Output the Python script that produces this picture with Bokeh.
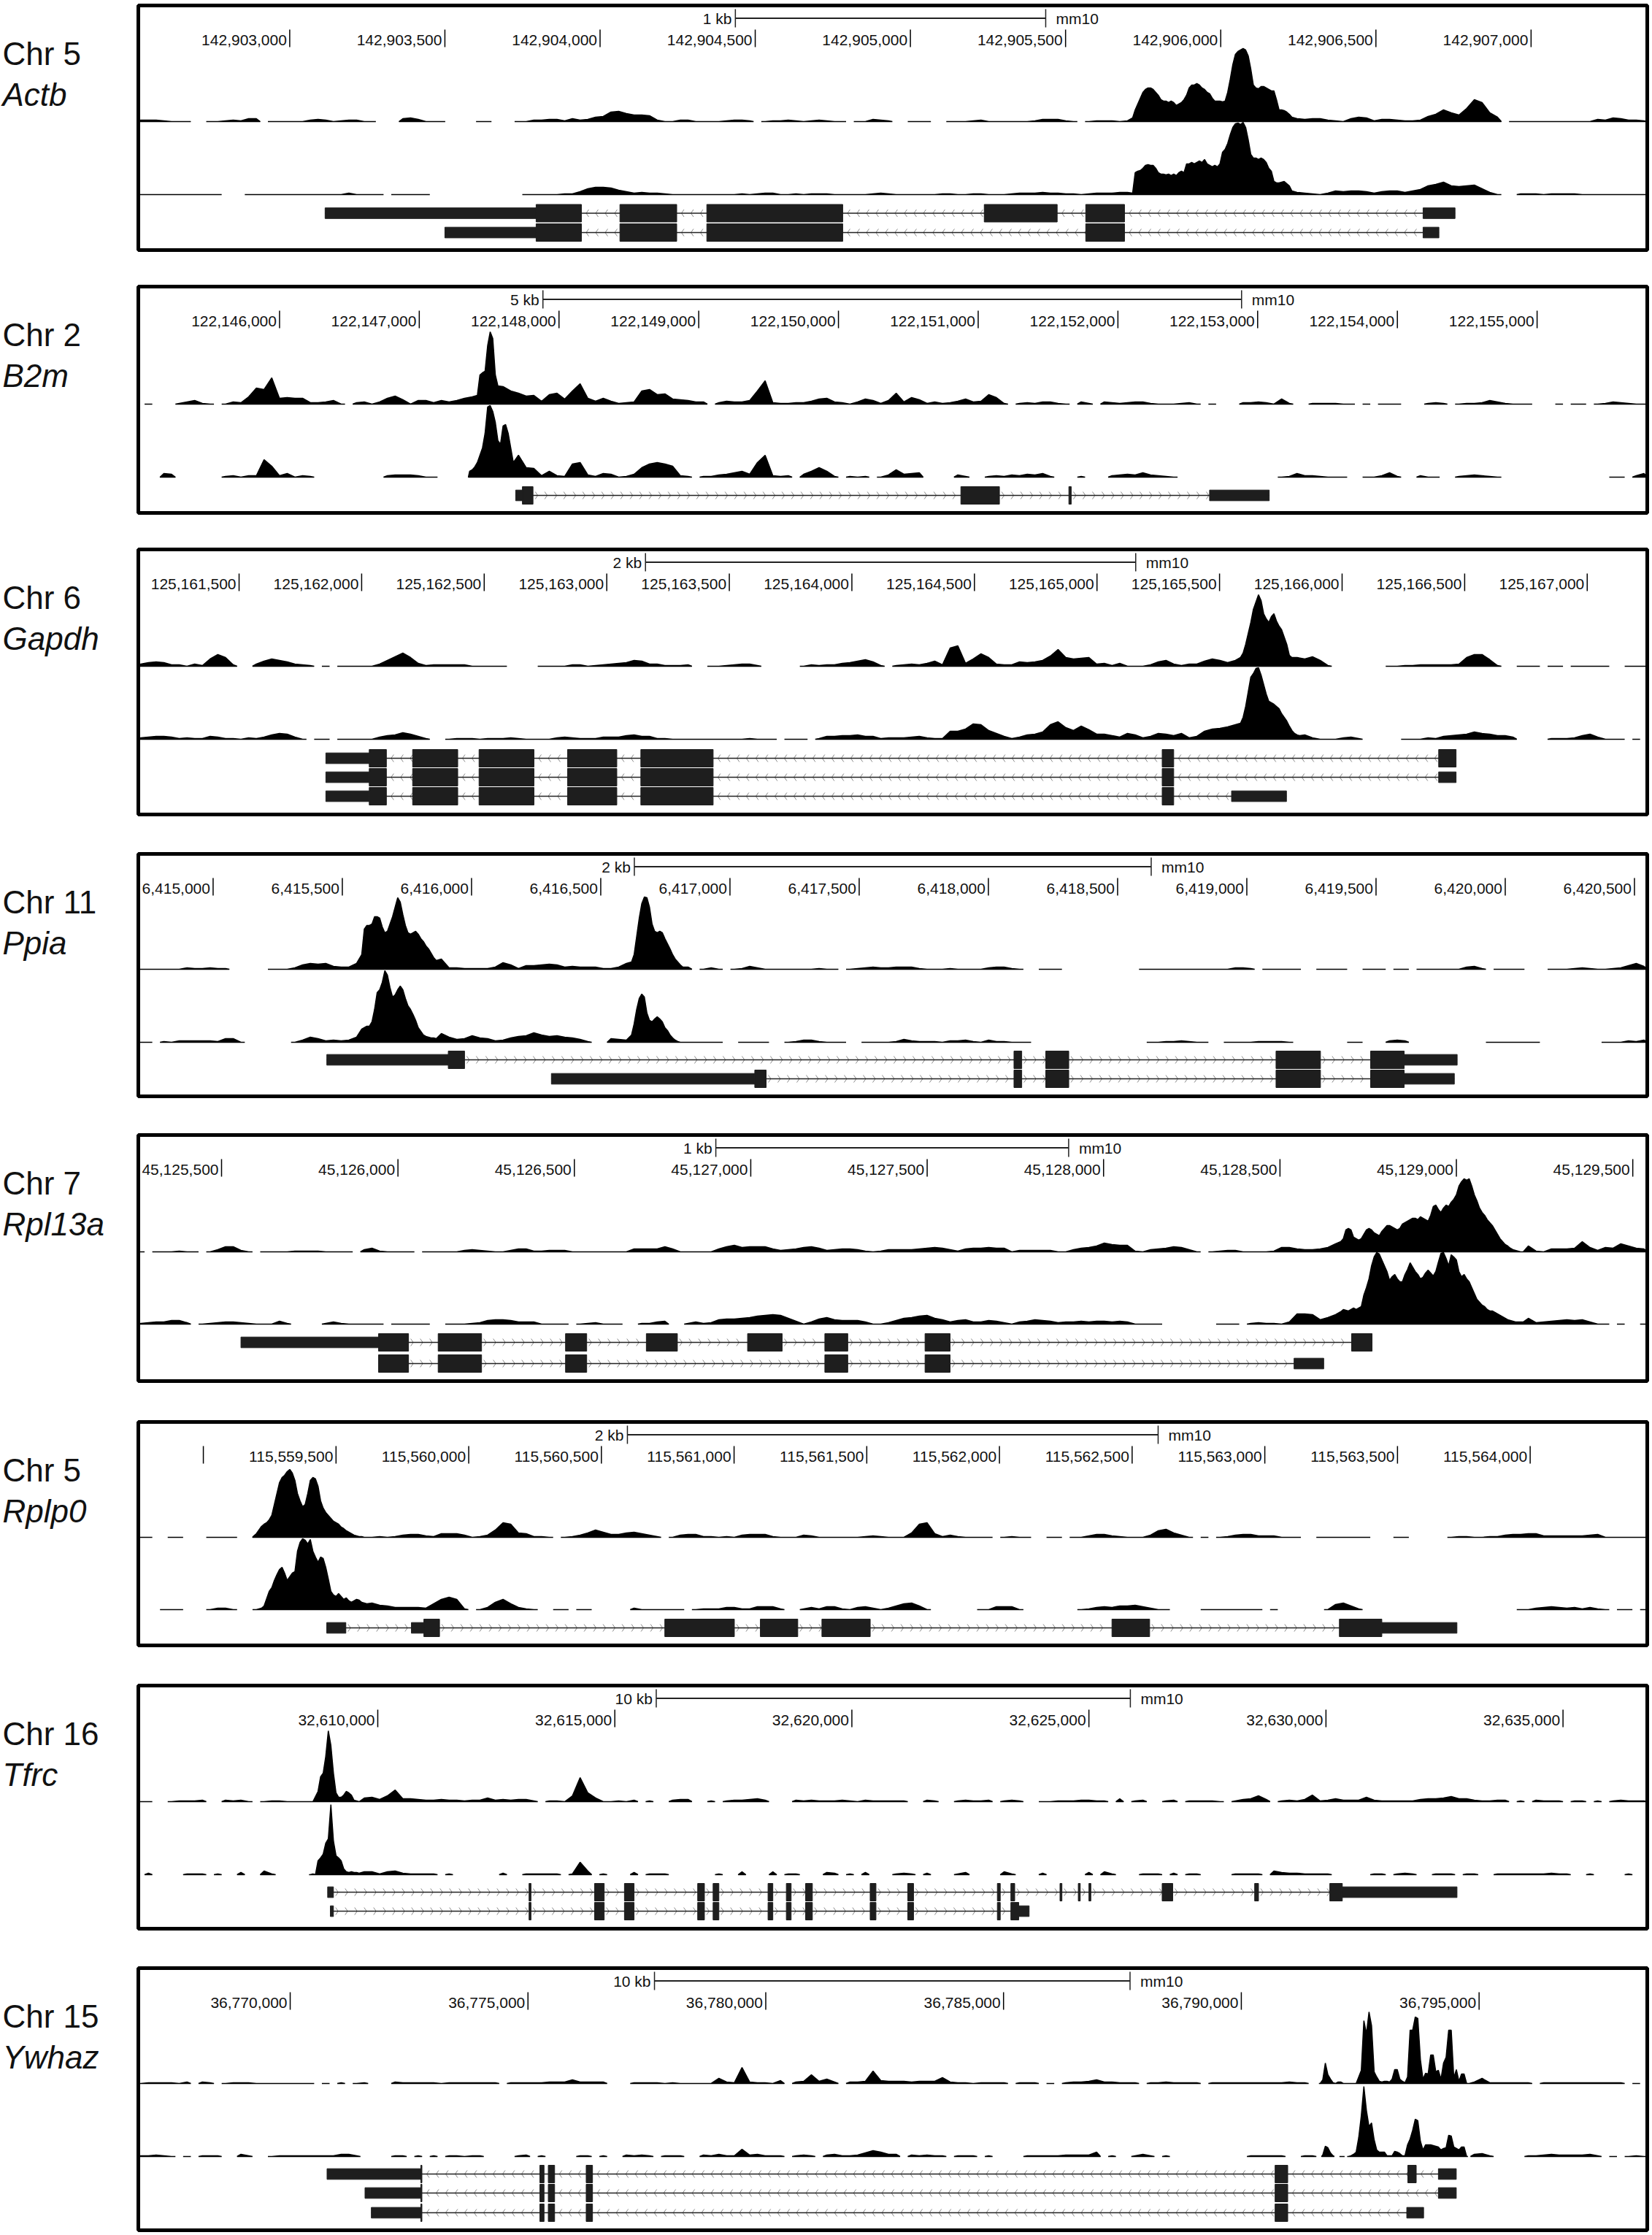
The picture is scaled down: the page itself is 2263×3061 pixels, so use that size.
import numpy as np
from bokeh.embed import file_html
from bokeh.layouts import column, row
from bokeh.models import ColumnDataSource, Range1d
from bokeh.plotting import figure
from bokeh.resources import INLINE
from bokeh.core.properties import value

N = None  # no coverage in this bin, the track has a gap there

# coverage per bin, 20 bins on each line
ACTB_A = [
    2,2,2,1,0,0,0,N,N,0,0,1,2,1,4,4,N,0,0,0,
    0,0,2,3,2,0,1,2,2,0,0,N,N,N,4,5,3,0,0,0,
    N,N,N,N,0,0,N,N,N,0,0,2,2,3,3,1,4,2,3,6,
    7,13,14,11,9,9,8,2,0,0,2,2,0,0,0,0,1,2,2,1,
    N,0,1,1,2,1,0,1,2,1,0,0,N,0,0,3,2,1,N,N,
    0,0,0,N,N,0,0,0,1,2,0,0,0,0,0,0,1,3,3,3,
    1,0,N,0,1,1,1,0,1,10,33,46,43,30,26,25,43,49,46,38,
    25,62,92,100,70,46,46,40,16,12,4,3,4,4,2,1,0,4,6,5,
    1,3,3,2,1,1,2,7,10,16,12,9,18,30,26,12,6,N,0,0,
    0,0,0,0,0,0,0,0,0,3,2,5,4,2,2,1,
]
ACTB_B = [
    0,0,0,0,0,0,0,0,0,0,0,N,N,N,0,0,0,0,0,0,
    0,0,0,0,0,0,0,2,0,0,0,0,N,0,0,0,0,0,N,N,
    N,N,N,N,N,N,N,N,N,N,0,0,0,0,0,1,1,4,8,10,
    10,9,6,4,2,3,2,2,1,0,0,0,0,0,0,0,0,0,1,0,
    1,2,2,0,0,1,0,1,1,1,0,0,0,0,0,1,2,1,0,0,
    0,0,0,0,1,1,0,0,1,1,0,0,0,1,2,2,2,3,2,2,
    1,1,0,1,2,2,2,3,3,30,35,38,30,25,28,22,42,42,48,38,
    38,58,95,97,62,48,45,38,17,14,3,2,1,0,2,5,4,5,5,4,
    2,4,5,5,3,5,7,12,14,17,12,11,12,13,8,3,0,N,N,1,
    1,1,0,1,1,1,1,0,0,0,0,0,0,0,0,0,
]
B2M_A = [
    N,0,N,N,N,1,3,5,1,0,N,0,3,2,10,22,20,36,8,9,
    8,8,2,2,3,5,0,N,2,3,0,3,8,11,6,0,5,5,2,5,
    3,5,8,10,13,45,99,24,18,15,11,12,4,13,15,7,18,28,8,4,
    8,4,1,2,3,18,20,13,14,7,6,5,3,3,N,2,4,3,3,5,
    18,32,2,1,1,2,2,4,7,8,3,2,0,3,7,5,1,5,15,3,
    9,6,1,3,1,2,4,7,3,4,13,9,1,N,1,2,1,3,3,1,
    0,N,3,1,N,3,2,1,2,3,3,1,0,0,0,1,2,0,N,0,
    N,N,N,2,2,3,2,0,7,1,N,N,1,1,1,1,0,0,N,0,
    N,0,0,0,N,N,N,1,2,1,N,0,1,1,2,5,3,1,0,0,
    0,N,N,N,0,N,0,0,N,0,1,3,2,1,0,0,
]
B2M_B = [
    N,N,N,5,4,N,N,N,N,N,N,1,2,0,2,2,24,15,2,5,
    0,2,1,N,N,N,N,N,N,N,N,N,2,3,3,3,2,0,0,N,
    N,N,N,10,20,70,95,50,70,30,13,12,2,8,2,1,18,20,3,1,
    5,4,0,1,4,13,18,20,18,15,2,1,N,1,1,3,4,6,8,4,
    20,30,2,1,2,N,4,8,13,8,1,N,1,0,1,N,0,3,10,4,
    5,6,N,N,N,N,3,1,N,N,1,2,1,3,2,4,3,5,1,N,
    N,N,1,N,N,N,2,3,4,3,6,3,2,1,0,N,N,N,N,N,
    N,N,N,N,N,N,N,N,0,1,5,2,2,1,0,0,0,N,N,0,
    0,2,6,1,N,N,2,0,0,N,N,1,2,3,2,1,0,N,N,N,
    N,N,N,N,N,N,N,N,N,N,N,0,0,N,2,5,
]
GAPDH_A = [
    3,5,6,5,2,2,0,3,1,10,16,12,2,N,N,3,7,10,8,6,
    3,2,1,N,0,N,0,0,0,0,0,3,8,13,18,12,4,1,2,2,
    2,2,2,0,0,0,0,0,N,N,N,N,0,0,0,0,2,2,0,1,
    2,3,4,5,8,7,3,3,1,1,1,2,N,N,0,0,1,2,3,3,
    1,N,N,N,N,N,0,2,1,2,2,4,5,7,9,6,1,N,1,2,
    3,2,4,7,2,25,28,4,10,17,12,3,2,2,6,5,6,8,14,23,
    12,10,11,12,3,4,1,4,0,0,0,2,6,8,3,1,3,3,7,10,
    8,5,8,15,50,85,98,70,72,45,12,10,13,8,1,N,N,N,N,N,
    N,N,0,0,1,1,2,2,2,2,2,3,12,16,16,9,1,N,N,0,
    0,0,N,0,0,N,0,0,0,0,0,N,N,0,0,0,
]
GAPDH_B = [
    2,3,4,4,3,1,2,1,1,4,3,1,1,0,2,1,3,6,8,7,
    3,0,N,0,0,N,0,0,0,0,0,3,5,6,9,7,4,1,N,N,
    0,1,1,1,0,1,1,1,2,1,0,0,0,0,2,3,2,1,1,1,
    3,3,3,5,6,4,4,1,1,0,0,0,0,0,0,0,0,0,0,1,
    0,0,0,N,0,0,0,N,1,4,4,5,5,6,4,4,1,2,2,2,
    3,4,2,1,1,11,11,14,21,20,12,8,4,1,3,6,7,10,20,24,
    16,12,18,13,7,7,5,3,8,6,2,4,8,7,5,8,2,4,11,14,
    15,17,20,40,88,97,70,48,40,28,13,6,2,0,0,0,2,3,1,N,
    N,N,N,N,0,0,0,2,1,4,5,6,7,10,8,7,5,5,3,N,
    N,N,N,1,1,1,2,5,7,3,0,0,0,N,0,N,
]
PPIA_A = [
    0,0,0,0,0,0,2,1,1,2,1,1,N,N,N,N,N,0,0,0,
    2,6,8,7,8,4,3,3,8,8,60,72,50,80,96,55,48,50,30,14,
    2,2,1,1,1,1,3,9,6,1,5,5,6,7,6,3,4,3,3,3,
    1,1,3,8,9,50,98,70,52,35,12,3,N,0,2,0,N,0,1,4,
    2,0,0,0,0,0,0,0,1,0,0,N,0,1,2,3,2,2,3,3,
    3,1,0,0,0,1,0,0,0,0,2,3,3,1,0,N,N,0,0,0,
    N,N,N,N,N,N,N,N,N,N,0,0,0,0,0,0,0,0,0,0,
    0,0,2,2,1,N,0,0,0,0,0,N,N,0,0,0,0,N,N,0,
    0,0,N,0,0,N,0,0,0,0,0,0,3,4,1,N,0,0,0,0,
    N,N,N,0,0,0,1,2,1,0,0,1,2,5,8,4,
]
PPIA_B = [
    0,0,N,1,0,2,2,2,2,2,1,5,5,0,N,N,N,N,N,N,
    0,3,7,5,2,3,2,3,7,10,20,21,38,70,96,50,65,75,40,12,
    7,4,5,9,6,5,2,3,6,8,9,13,10,8,9,7,6,4,1,N,
    N,5,4,3,8,30,65,28,34,20,5,0,0,0,0,0,N,N,0,0,
    0,0,N,N,0,1,3,3,1,0,0,0,N,N,0,0,0,0,1,4,
    2,1,1,1,0,2,2,3,1,0,3,1,1,0,0,0,N,N,N,N,
    N,N,N,N,N,N,N,N,N,N,N,0,0,1,1,2,1,0,0,N,
    N,0,0,0,0,1,1,1,1,0,N,N,N,N,N,N,N,0,0,N,
    N,N,2,3,2,N,N,N,N,N,N,N,N,N,N,0,0,0,0,0,
    0,0,N,N,N,N,N,N,N,N,0,0,0,2,1,3,
]
RPL13A_A = [
    0,N,0,0,0,1,0,0,N,0,3,7,7,2,0,N,0,0,0,0,
    1,1,1,1,0,0,0,0,N,3,5,1,0,0,0,0,N,0,0,0,
    0,0,2,3,2,1,0,0,2,4,4,1,1,2,2,2,0,0,0,0,
    0,0,0,0,4,4,4,4,7,4,0,0,0,0,0,4,7,9,6,7,
    7,7,4,2,3,4,6,7,5,2,3,4,4,3,1,0,1,3,3,3,
    3,4,5,6,5,3,1,4,5,5,6,5,5,0,2,2,2,2,2,0,
    0,3,5,6,8,12,10,9,9,1,0,3,4,5,7,6,3,0,N,0,
    1,2,2,0,0,0,0,1,6,6,4,3,3,4,6,11,20,30,28,20,
    28,35,33,28,32,38,40,44,48,45,62,55,62,70,95,100,80,50,35,24,
    8,1,0,4,4,4,5,14,6,2,6,5,11,8,5,4,
]
RPL13A_B = [
    1,2,3,3,5,5,2,N,0,1,2,3,3,2,1,0,0,0,4,1,
    N,N,N,N,1,3,1,0,0,0,0,0,N,0,0,0,0,0,N,N,
    0,0,0,1,2,5,6,6,5,3,3,3,0,0,0,0,N,0,1,2,
    0,0,0,N,N,1,1,3,4,N,N,1,3,1,2,6,7,7,8,9,
    11,12,13,12,8,4,0,3,7,9,6,5,5,5,3,0,0,2,5,8,
    9,11,12,8,6,3,5,6,3,3,5,4,2,0,3,4,6,5,4,2,
    3,3,4,3,4,4,3,4,3,0,0,0,0,N,N,N,N,N,N,N,
    0,0,0,N,1,2,1,1,0,3,14,14,13,6,9,13,17,20,20,30,
    70,98,90,60,68,58,75,84,62,70,70,97,82,95,72,62,40,25,18,13,
    8,2,3,4,5,6,5,6,3,0,0,N,0,N,N,0,
]
RPLP0_A = [
    0,0,N,N,0,0,N,N,N,0,0,0,0,N,N,3,15,20,55,85,
    88,45,75,82,35,22,20,8,3,1,0,1,0,1,3,4,4,2,1,5,
    5,5,3,0,1,3,10,20,18,6,5,1,1,0,N,0,1,3,6,10,
    7,4,4,6,7,5,3,1,N,0,3,4,4,1,1,0,1,0,3,4,
    4,4,1,0,0,0,3,2,0,0,0,0,0,0,1,2,1,0,0,0,
    6,18,20,5,1,3,1,0,0,0,0,N,0,1,0,0,N,N,0,0,
    N,0,0,2,4,4,2,1,0,0,0,3,9,11,6,3,0,N,0,N,
    0,1,3,4,4,2,2,2,0,0,0,N,N,0,0,0,0,0,0,0,
    N,N,N,0,0,N,N,N,N,N,0,1,1,0,0,1,1,3,4,4,
    5,5,2,2,2,2,2,2,3,4,0,0,0,0,0,0,
]
RPLP0_B = [
    N,N,N,0,0,0,N,N,N,0,2,2,0,N,N,0,1,5,32,48,
    58,40,95,97,75,58,52,20,15,17,9,6,5,3,3,3,3,2,8,14,
    17,14,1,N,0,3,10,14,8,3,1,0,N,N,0,0,N,0,0,N,
    N,N,N,N,2,0,0,0,0,0,0,N,0,1,1,1,3,3,1,1,
    4,4,4,1,N,N,1,3,1,4,4,1,0,3,4,2,0,2,5,8,
    9,5,0,N,N,N,N,N,N,0,0,4,4,4,0,N,N,N,N,N,
    N,N,0,1,3,4,3,5,5,6,4,2,0,0,N,N,N,N,0,0,
    0,0,0,0,0,0,N,0,N,N,N,N,N,N,0,7,9,5,1,N,
    N,N,N,N,N,N,N,N,N,N,N,N,N,N,N,N,N,N,N,0,
    0,2,3,4,3,2,3,1,3,1,0,N,0,0,N,0,
]
TFRC_A = [
    0,0,N,N,0,1,1,1,2,N,N,2,1,2,0,N,0,1,1,0,
    0,0,1,8,50,98,30,15,3,5,6,3,8,16,4,4,3,2,2,3,
    2,2,1,2,2,5,2,3,2,3,3,1,N,1,1,0,8,33,12,5,
    0,0,1,0,2,N,1,N,N,2,3,3,N,N,1,N,1,2,2,3,
    4,2,N,N,N,2,1,2,1,1,1,2,1,0,2,1,1,1,1,1,
    N,N,2,1,N,N,1,2,1,1,2,N,1,2,1,N,N,0,0,1,
    1,1,2,2,1,1,N,4,N,1,2,N,N,1,2,N,1,1,1,1,
    0,N,1,3,4,8,3,N,1,2,1,3,9,1,2,4,2,2,2,6,
    2,1,1,1,1,1,3,4,4,5,7,4,4,2,1,1,2,2,N,1,
    N,2,1,1,1,N,1,1,N,1,N,1,2,1,1,1,
]
TFRC_B = [
    N,2,N,N,N,N,1,1,1,N,1,N,N,3,N,N,5,1,N,N,
    N,N,2,6,55,97,38,14,5,4,4,1,4,5,2,1,1,1,1,N,
    1,N,N,N,N,N,N,2,N,N,1,1,1,1,1,N,1,17,5,N,
    1,N,N,N,3,N,1,1,1,N,N,N,N,N,N,1,N,N,4,N,
    N,N,4,N,1,1,N,N,N,3,2,N,1,N,3,N,N,N,1,2,
    1,N,2,N,N,N,1,3,N,N,N,N,4,1,N,N,N,2,N,N,
    N,N,N,3,N,4,1,N,N,N,1,1,1,N,2,N,1,1,N,N,
    N,N,1,1,1,1,N,5,3,2,2,1,1,1,1,N,N,N,N,N,
    1,1,N,1,2,1,N,N,1,1,1,N,1,1,N,N,1,1,1,1,
    1,1,1,2,1,1,N,N,1,N,N,N,N,1,N,N,
]
YWHAZ_A = [
    0,1,1,1,1,0,2,N,2,1,N,0,1,1,1,0,0,0,0,0,
    0,0,0,N,0,N,1,N,0,1,N,N,N,2,1,1,1,1,1,0,
    1,1,1,1,1,1,1,N,1,1,1,1,1,2,2,2,5,2,2,2,
    2,N,N,N,1,1,1,1,0,1,0,0,0,0,0,7,2,1,22,2,
    1,1,0,4,N,2,3,12,3,6,2,N,2,2,3,17,4,3,3,3,
    2,3,3,3,8,2,1,1,0,1,1,1,1,N,1,1,1,N,0,N,
    1,2,2,3,5,2,2,1,1,1,N,1,1,2,1,1,1,1,N,1,
    1,1,1,1,1,1,1,1,1,2,1,1,N,1,20,3,1,0,10,90,
    98,5,3,20,3,70,92,10,40,22,74,20,10,2,7,1,1,1,1,1,
    1,N,1,1,1,1,1,1,1,1,1,1,1,N,0,N,
]
YWHAZ_B = [
    1,1,2,1,0,N,0,N,1,1,1,N,N,3,1,N,N,0,1,1,
    1,1,1,1,1,1,3,3,1,N,N,N,N,1,1,N,1,N,1,N,
    1,1,0,1,1,N,N,N,N,1,2,N,1,N,N,N,N,1,1,N,
    1,N,N,2,1,2,1,N,1,1,1,N,N,2,1,3,1,1,10,2,
    3,1,1,1,N,1,2,1,N,2,3,1,1,2,5,8,6,3,3,N,
    2,1,2,1,1,N,1,1,1,N,1,N,N,N,N,1,1,1,1,1,
    2,2,2,2,6,N,1,N,N,1,3,1,N,1,N,N,N,N,N,N,
    N,N,N,N,1,1,1,1,1,N,N,1,1,2,12,1,N,1,10,97,
    40,8,3,7,3,50,50,14,16,12,28,14,10,3,4,1,N,N,N,N,
    1,1,2,3,2,2,2,2,3,1,N,0,N,0,1,0,
]

# the tall peaks read at three samples per bin: (first bin, samples)
ACTB_A_PEAKS = [(129, [
    5,16,24,32,40,44,46,46,44,40,36,30,28,28,26,28,26,22,24,26,30,36,46,50,50,52,50,46,44,40,38,32,
    28,28,28,27,28,40,58,78,92,96,98,100,98,90,72,50,46,45,48,48,46,44,42,42,30,16,16,15,13,10,6])]
ACTB_B_PEAKS = [(129, [
    2,30,32,33,36,40,41,40,40,36,30,28,28,27,28,26,28,26,30,32,30,42,42,44,42,44,46,44,48,42,40,38,
    40,38,42,58,62,70,82,92,97,98,96,99,92,75,55,50,50,48,50,48,44,36,32,18,16,16,17,18,15,12,5])]
B2M_A_PEAKS = [(44, [12,40,43,45,80,99,90,40,25])]
B2M_B_PEAKS = [(43, [8,10,14,20,30,40,60,96,98,90,75,50,45,70,72,60,40,20])]
GAPDH_A_PEAKS = [(143, [12,18,30,45,60,78,88,98,90,72,65,60,68,72,62,55,50,40,30,15,12])]
GAPDH_B_PEAKS = [(143, [22,30,45,65,85,90,97,98,88,75,62,52,50,48,45,42,35,30,25,18,12,8,6,5])]
PPIA_A_PEAKS = [
    (29, [20,55,60,60,62,72,72,70,58,50,52,62,72,85,98,92,75,60,50,48,50,52,48,42,38,32,28,22,16,12]),
    (64, [10,20,45,70,90,99,98,85,62,52,50,52,50,42,35,28,20,14,10,6,3]),
]
PPIA_B_PEAKS = [
    (29, [18,20,22,22,28,45,68,72,82,98,92,75,62,65,72,77,72,60,50,45,38,30,20,15,10,8,7,6,6,5]),
    (64, [10,25,45,60,66,62,40,30,28,32,35,32,28,20,16,10,6,3,1,0,0]),
]
RPL13A_A_PEAKS = [(156, [
    14,18,30,32,30,20,18,16,18,24,30,32,30,26,24,22,28,32,36,36,34,32,30,32,38,40,42,44,46,46,44,48,46,44,42,50,
    62,64,58,54,60,64,62,68,72,78,90,96,100,98,100,90,78,70,60,54,50,44,40,36,30,24,18,14,10,8,5,3,2,1,0,0])]
RPL13A_B_PEAKS = [(156, [
    17,20,19,18,20,22,20,22,24,40,50,62,80,92,98,96,88,80,72,60,65,68,62,58,58,68,75,84,78,72,68,62,64,70,74,70,
    66,72,85,97,98,90,80,95,92,88,72,65,68,62,58,50,42,34,30,26,24,20,18,18,16,14,12,10,8,6,5,4,3,3,3,3])]
RPLP0_A_PEAKS = [(15, [
    2,5,10,15,18,20,24,30,45,60,75,82,85,90,93,88,78,60,50,42,45,60,78,82,80,70,50,40,34,30,
    26,22,20,18,14,12,9,7,5,3,2,1,1,0,0])]
RPLP0_B_PEAKS = [(15, [
    0,0,1,2,5,15,25,30,40,48,55,58,50,40,45,50,52,80,92,97,95,90,96,80,72,65,72,70,58,42,
    25,20,18,22,18,14,16,12,10,12,14,13,10,9,8])]
TFRC_A_PEAKS = [(22, [0,0,0,7,14,34,39,62,97,77,39,12,6,6,9,14,12,9,2,1,0])]
TFRC_B_PEAKS = [(22, [N,0,1,0,19,23,28,43,49,96,46,26,23,19,8,4,3,4,3,3,2])]
YWHAZ_A_PEAKS = [(153, [
    N,0,5,28,12,6,1,0,2,2,0,0,0,0,0,
    0,9,18,86,68,98,79,16,9,3,2,3,3,2,6,19,19,6,3,1,
    9,73,73,91,89,33,6,14,13,39,39,16,18,6,28,36,73,73,8,19,3,13,13,0,0])]
YWHAZ_B_PEAKS = [(153, [
    N,N,2,14,12,5,1,N,N,0,0,N,0,1,3,
    6,26,56,96,63,41,46,23,9,6,6,6,1,1,1,7,6,4,1,1,
    16,24,36,51,49,21,9,16,16,16,15,14,13,9,11,12,29,28,13,11,9,13,13,0,N])]

# gene models in bp, one list per transcript
ACTB_CDS = [
    [(142903794,142903940),(142904064,142904247),(142904344,142904782),(142905238,142905473),(142905565,142905690)],
    [(142903794,142903940),(142904064,142904247),(142904344,142904782),(142905565,142905690)],
]
ACTB_UTR = [
    [(142903114,142903794),(142906652,142906755)],
    [(142903500,142903794),(142906652,142906703)],
]
B2M_CDS = [[(122147738,122147814),(122150876,122151152),(122151649,122151666)]]
B2M_UTR = [[(122147690,122147738),(122152656,122153083)]]
GAPDH_EXONS = [(125162031,125162101),(125162208,125162392),(125162479,125162703),(125162840,125163041),(125163139,125163434),(125165266,125165313)]
GAPDH_CDS = [GAPDH_EXONS + [(125166394,125166465)], GAPDH_EXONS, GAPDH_EXONS]
GAPDH_UTR = [
    [(125161854,125162031)],
    [(125161854,125162031),(125166394,125166465)],
    [(125161854,125162031),(125165549,125165773)],
]
PPIA_CDS = [
    [(6415910,6415973),(6418099,6418129),(6418222,6418311),(6419113,6419285),(6419479,6419609)],
    [(6417096,6417140),(6418099,6418129),(6418222,6418311),(6419113,6419285),(6419479,6419609)],
]
PPIA_UTR = [
    [(6415440,6415910),(6419609,6419814)],
    [(6416309,6417096),(6419609,6419803)],
]
RPL13A_CDS = [
    [(45125945,45126030),(45126114,45126237),(45126475,45126535),(45126704,45126792),(45126991,45127089),(45127210,45127275),(45127494,45127565),(45128703,45128761)],
    [(45125945,45126030),(45126114,45126237),(45126475,45126535),(45127210,45127275),(45127494,45127565)],
]
RPL13A_UTR = [
    [(45125555,45125945)],
    [(45128540,45128624)],
]
RPLP0_CDS = [[(115559831,115559890),(115560739,115561001),(115561099,115561240),(115561331,115561513),(115562424,115562566),(115563281,115563441)]]
RPLP0_UTR = [[(115559465,115559537),(115559784,115559831),(115563441,115563724)]]
TFRC_SHARED = [(32613191,32613232),(32614573,32614776),(32615203,32615406),(32616748,32616890),(32617073,32617195),(32618232,32618333),(32618618,32618719),(32619024,32619167),(32620386,32620508),(32621179,32621301),(32623069,32623130)]
TFRC_CDS = [
    TFRC_SHARED + [(32623354,32623435),(32624390,32624431),(32624776,32624817),(32625000,32625041),(32626545,32626768),(32628496,32628577),(32630081,32630345)],
    TFRC_SHARED + [(32623354,32623520)],
]
TFRC_UTR = [
    [(32608943,32609065),(32630345,32632764)],
    [(32609000,32609065),(32623520,32623739)],
]
YWHAZ_SHARED = [(36772747,36772770),(36775250,36775338),(36775427,36775560),(36776224,36776357),(36790710,36790976)]
YWHAZ_CDS = [YWHAZ_SHARED + [(36793501,36793678)], YWHAZ_SHARED, YWHAZ_SHARED]
YWHAZ_UTR = [
    [(36770775,36772747),(36794144,36794520)],
    [(36771573,36772747),(36794144,36794520)],
    [(36771706,36772747),(36793479,36793833)],
]

ACTB_TICKS = [142903000,142903500,142904000,142904500,142905000,142905500,142906000,142906500,142907000]
B2M_TICKS = [122146000,122147000,122148000,122149000,122150000,122151000,122152000,122153000,122154000,122155000]
GAPDH_TICKS = [125161500,125162000,125162500,125163000,125163500,125164000,125164500,125165000,125165500,125166000,125166500,125167000]
PPIA_TICKS = [6415000,6415500,6416000,6416500,6417000,6417500,6418000,6418500,6419000,6419500,6420000,6420500]
RPL13A_TICKS = [45125500,45126000,45126500,45127000,45127500,45128000,45128500,45129000,45129500]
RPLP0_TICKS = [115559000,115559500,115560000,115560500,115561000,115561500,115562000,115562500,115563000,115563500,115564000]
TFRC_TICKS = [32610000,32615000,32620000,32625000,32630000,32635000]
YWHAZ_TICKS = [36770000,36775000,36780000,36785000,36790000,36795000]

FONT = "Liberation Sans"
BLACK = "#000000"
EXON = "#1e1e1e"
BIN_PX = 10.56
CHEVRON_PX = 13
SIDE_W = 182

# frame in page pixels, track baselines and transcript rows above the frame bottom
PANELS = [
    dict(chrom="Chr 5", gene="Actb", top=7, bottom=342, start=142902507.5, bin_bp=24.84,
         a=ACTB_A, b=ACTB_B, a_peaks=ACTB_A_PEAKS, b_peaks=ACTB_B_PEAKS,
         base=(176, 76), rows=(50.5, 24), cds=ACTB_CDS, utr=ACTB_UTR, ticks=ACTB_TICKS, ruler=(142904436, 142905436),
         kb="1 kb", strand=-1),
    dict(chrom="Chr 2", gene="B2m", top=392, bottom=702, start=122144979, bin_bp=55.17,
         a=B2M_A, b=B2M_B, a_peaks=B2M_A_PEAKS, b_peaks=B2M_B_PEAKS,
         base=(149, 49), rows=(24,), cds=B2M_CDS, utr=B2M_UTR, ticks=B2M_TICKS, ruler=(122147885, 122152885),
         kb="5 kb", strand=1),
    dict(chrom="Chr 6", gene="Gapdh", top=752, bottom=1115, start=125161083, bin_bp=31.45,
         a=GAPDH_A, b=GAPDH_B, a_peaks=GAPDH_A_PEAKS, b_peaks=GAPDH_B_PEAKS,
         base=(203, 103), rows=(77, 51, 25), cds=GAPDH_CDS, utr=GAPDH_UTR, ticks=GAPDH_TICKS, ruler=(125163158, 125165158),
         kb="2 kb", strand=-1),
    dict(chrom="Chr 11", gene="Ppia", top=1169, bottom=1501, start=6414705, bin_bp=29.83,
         a=PPIA_A, b=PPIA_B, a_peaks=PPIA_A_PEAKS, b_peaks=PPIA_B_PEAKS,
         base=(174, 74), rows=(50, 24), cds=PPIA_CDS, utr=PPIA_UTR, ticks=PPIA_TICKS, ruler=(6416630, 6418630),
         kb="2 kb", strand=1),
    dict(chrom="Chr 7", gene="Rpl13a", top=1554, bottom=1891, start=45125260, bin_bp=21.85,
         a=RPL13A_A, b=RPL13A_B, a_peaks=RPL13A_A_PEAKS, b_peaks=RPL13A_B_PEAKS,
         base=(177, 78), rows=(53, 24), cds=RPL13A_CDS, utr=RPL13A_UTR, ticks=RPL13A_TICKS, ruler=(45126901, 45127901),
         kb="1 kb", strand=1),
    dict(chrom="Chr 5", gene="Rplp0", top=1947, bottom=2253, start=115558749.5, bin_bp=29.05,
         a=RPLP0_A, b=RPLP0_B, a_peaks=RPLP0_A_PEAKS, b_peaks=RPLP0_B_PEAKS,
         base=(148, 49), rows=(24,), cds=RPLP0_CDS, utr=RPLP0_UTR, ticks=RPLP0_TICKS, ruler=(115560598, 115562598),
         kb="2 kb", strand=1),
    dict(chrom="Chr 16", gene="Tfrc", top=2308, bottom=2641, start=32604919, bin_bp=162.6,
         a=TFRC_A, b=TFRC_B, a_peaks=TFRC_A_PEAKS, b_peaks=TFRC_B_PEAKS,
         base=(174, 74), rows=(50, 24), cds=TFRC_CDS, utr=TFRC_UTR, ticks=TFRC_TICKS, ruler=(32615874, 32625874),
         kb="10 kb", strand=1),
    dict(chrom="Chr 15", gene="Ywhaz", top=2695, bottom=3054, start=36766776, bin_bp=162.1,
         a=YWHAZ_A, b=YWHAZ_B, a_peaks=YWHAZ_A_PEAKS, b_peaks=YWHAZ_B_PEAKS,
         base=(201, 101), rows=(77, 51, 24), cds=YWHAZ_CDS, utr=YWHAZ_UTR, ticks=YWHAZ_TICKS, ruler=(36777660, 36787660),
         kb="10 kb", strand=-1),
]


def coverage_patches(values, peaks, base, start, bin_bp):
    # every unbroken run of samples becomes one black shape on the baseline
    samples = []
    i = 0
    windows = dict(peaks)
    while i < len(values):
        if i in windows:
            fine = windows[i]
            samples += [(start + (i + (j + 0.5) / 3) * bin_bp, v, bin_bp / 3) for j, v in enumerate(fine)]
            i += len(fine) // 3
        else:
            samples.append((start + (i + 0.5) * bin_bp, values[i], bin_bp))
            i += 1
    samples.append((0, None, 0))

    xs, ys = [], []
    run = []
    for s in samples:
        if s[1] is not None:
            run.append(s)
        elif run:
            rx = [r[0] for r in run]
            ry = [base + r[1] for r in run]
            xs.append([rx[0] - run[0][2] / 2] + rx + [rx[-1] + run[-1][2] / 2])
            ys.append([base] + ry + [base])
            run = []
    return xs, ys


def draw_panel(p, panel, height):
    bp_per_px = panel["bin_bp"] / BIN_PX

    # coverage tracks
    for values, peaks, base in zip((panel["a"], panel["b"]), (panel["a_peaks"], panel["b_peaks"]), panel["base"]):
        xs, ys = coverage_patches(values, peaks, base, panel["start"], panel["bin_bp"])
        p.patches(xs, ys, fill_color=BLACK, line_color=BLACK, line_width=1.5)

    # transcripts: intron line, chevrons, then exons on top
    pitch = CHEVRON_PX * bp_per_px
    for y, cds, utr in zip(panel["rows"], panel["cds"], panel["utr"]):
        exons = sorted(cds + utr)
        arm_x = 3.5 * bp_per_px * panel["strand"]
        chev_x, chev_y = [], []
        for (a, b), (c, d) in zip(exons[:-1], exons[1:]):
            for x in np.arange(b + pitch / 2, c, pitch):
                chev_x.append([x - arm_x, x, x - arm_x])
                chev_y.append([y + 5, y, y - 5])
        if chev_x:
            p.multi_line(chev_x, chev_y, line_color="#8c8c8c", line_width=1)
        p.segment(exons[0][0], y, exons[-1][1], y, line_color="#222222", line_width=1.5)
        p.quad(left=[e[0] for e in cds], right=[e[1] for e in cds],
               bottom=[y - 12] * len(cds), top=[y + 12] * len(cds),
               fill_color=EXON, line_color=EXON, line_width=1)
        p.quad(left=[e[0] for e in utr], right=[e[1] for e in utr],
               bottom=[y - 7.3] * len(utr), top=[y + 7.3] * len(utr),
               fill_color=EXON, line_color=EXON, line_width=1)

    # position ticks with the number to their left
    ticks = panel["ticks"]
    labels = [f"{t:,}" for t in ticks]
    if panel["gene"] == "Rplp0":
        labels[0] = ""  # this label is cut off in the browser view
    src = ColumnDataSource(dict(x=ticks, y=[height - 47] * len(ticks), t=labels))
    p.segment(ticks, height - 33, ticks, height - 57, line_color=BLACK, line_width=1.5)
    p.text("x", "y", text="t", source=src, x_offset=-4, text_align="right", text_baseline="middle",
           text_font=value(FONT), text_font_size="21px", text_color="#111111")

    # scale bar
    left, right = panel["ruler"]
    y = height - 17.5
    p.segment(left, y, right, y, line_color="#222222", line_width=2)
    p.segment([left, right], y - 12.5, [left, right], y + 12.5, line_color="#222222", line_width=1.5)
    p.text([left], [y], text=[panel["kb"]], x_offset=-5, text_align="right", text_baseline="middle",
           text_font=value(FONT), text_font_size="21px", text_color="#111111")
    p.text([right], [y], text=["mm10"], x_offset=14, text_align="left", text_baseline="middle",
           text_font=value(FONT), text_font_size="21px", text_color="#111111")


def side_labels(panel, fig_h, frame_h):
    # chromosome and gene name left of the browser frame; a row lines the frames
    # of its figures up, so this one uses the same vertical range as the browser
    s = figure(width=SIDE_W, height=fig_h, output_backend="svg", toolbar_location=None,
               x_axis_location=None, y_axis_location=None,
               x_range=Range1d(0, SIDE_W), y_range=Range1d(0, frame_h),
               min_border_left=0, min_border_right=0, min_border_bottom=4,
               min_border_top=fig_h - frame_h - 4)
    s.grid.grid_line_color = None
    s.outline_line_color = None
    s.text([3], [frame_h - 66], text=[panel["chrom"]], text_baseline="middle",
           text_font=value(FONT), text_font_size="44px", text_color="#111111")
    s.text([3], [frame_h - 122], text=[panel["gene"]], text_baseline="middle",
           text_font=value(FONT), text_font_style="italic", text_font_size="44px", text_color="#111111")
    return s


rows = []
prev_bottom = -4
for panel in PANELS:
    frame_h = panel["bottom"] - panel["top"]
    fig_h = panel["bottom"] - prev_bottom
    bp_per_px = panel["bin_bp"] / BIN_PX
    x0 = panel["start"] + 2 * bp_per_px
    p = figure(width=2260 - SIDE_W, height=fig_h, output_backend="svg", toolbar_location=None,
               x_axis_location=None, y_axis_location=None,
               x_range=Range1d(x0, x0 + 2067 * bp_per_px), y_range=Range1d(0, frame_h),
               min_border_left=189 - SIDE_W, min_border_right=4, min_border_bottom=4,
               min_border_top=fig_h - frame_h - 4)
    p.grid.grid_line_color = None
    p.outline_line_color = "#000000"
    p.outline_line_width = 5
    draw_panel(p, panel, frame_h)
    rows.append(row(side_labels(panel, fig_h, frame_h), p, spacing=0))
    prev_bottom = panel["bottom"]

page = column(*rows, spacing=0, margin=0)
open("out.html", "w").write(file_html(page, INLINE))
